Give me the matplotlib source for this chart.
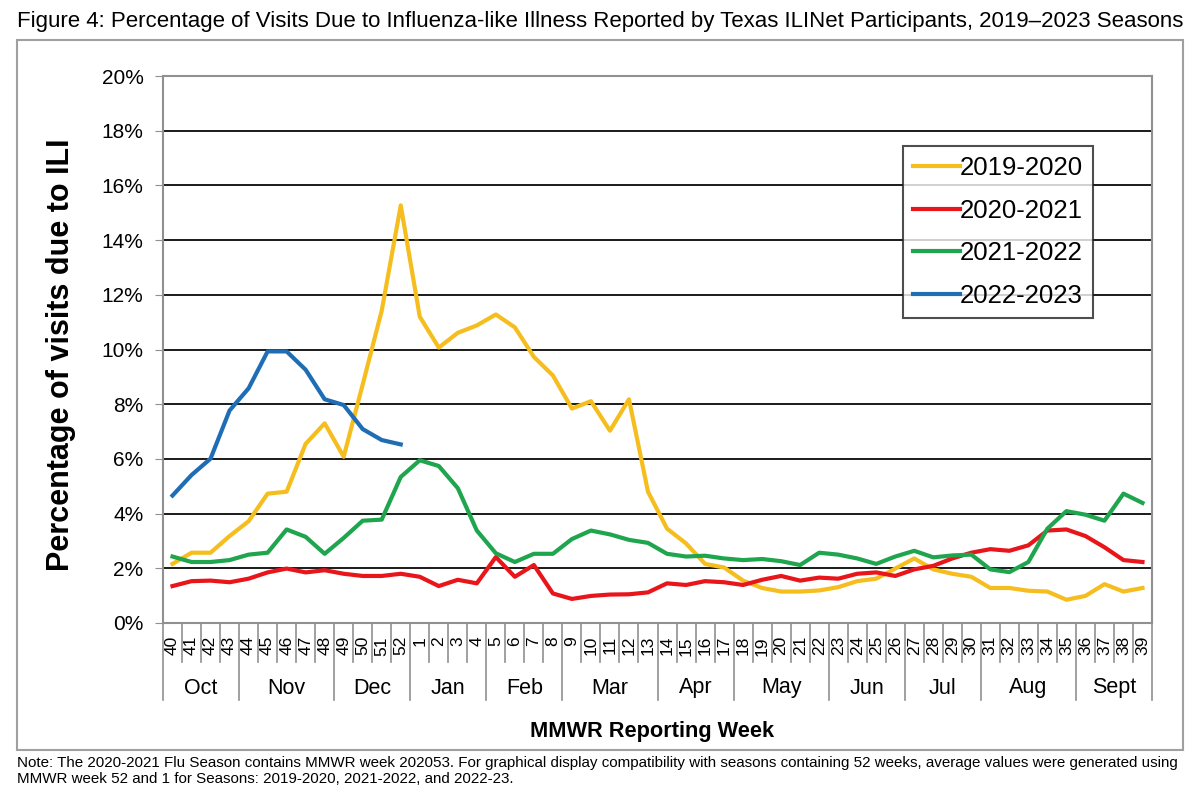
import numpy as np
import matplotlib.pyplot as plt
from matplotlib.patches import Rectangle
from matplotlib.transforms import blended_transform_factory

plt.rcParams['font.family'] = ['Liberation Sans', 'DejaVu Sans']

week_labels = [str(w) for w in range(40, 53)] + [str(w) for w in range(1, 40)]
months = ['Oct', 'Nov', 'Dec', 'Jan', 'Feb', 'Mar', 'Apr', 'May', 'Jun', 'Jul', 'Aug', 'Sept']
weeks_per_month = [4, 5, 4, 4, 4, 5, 4, 5, 4, 4, 5, 4]

s2019 = [2.16, 2.57, 2.57, 3.18, 3.72, 4.73, 4.80, 6.55, 7.30, 6.08, 8.72, 11.42, 15.27,
         11.20, 10.07, 10.61, 10.88,
         11.28, 10.81, 9.73, 9.05, 7.84, 8.11, 7.03, 8.18, 4.80, 3.45, 2.91, 2.16, 2.03, 1.55,
         1.28, 1.15, 1.15, 1.19,
         1.31, 1.53, 1.62, 1.99, 2.36, 1.96, 1.80, 1.69, 1.28, 1.28, 1.18, 1.15, 0.85, 0.99,
         1.42, 1.15, 1.28]
s2020 = [1.35, 1.53, 1.55, 1.49, 1.62, 1.85, 1.99, 1.85, 1.93, 1.80, 1.72, 1.72, 1.80,
         1.69, 1.35, 1.58, 1.45,
         2.41, 1.69, 2.12, 1.08, 0.88, 0.99, 1.04, 1.05, 1.12, 1.45, 1.39, 1.53, 1.49, 1.39,
         1.58, 1.72, 1.55, 1.66,
         1.62, 1.80, 1.85, 1.72, 1.96, 2.09, 2.36, 2.57, 2.70, 2.64, 2.84, 3.38, 3.42, 3.18,
         2.77, 2.30, 2.23]
s2021 = [2.43, 2.23, 2.23, 2.30, 2.50, 2.57, 3.42, 3.15, 2.53, 3.11, 3.74, 3.78, 5.34,
         5.95, 5.74, 4.93, 3.38,
         2.55, 2.23, 2.53, 2.53, 3.07, 3.38, 3.24, 3.04, 2.93, 2.53, 2.43, 2.46, 2.36, 2.30,
         2.34, 2.26, 2.12, 2.57,
         2.50, 2.36, 2.16, 2.43, 2.64, 2.40, 2.47, 2.50, 1.96, 1.86, 2.23, 3.45, 4.09, 3.96,
         3.74, 4.73, 4.39]
s2022 = [4.66, 5.41, 6.01, 7.77, 8.58, 9.93, 9.93, 9.26, 8.18, 7.97, 7.09, 6.69, 6.53]

series = [('2019-2020', s2019, '#F5BE1E'),
          ('2020-2021', s2020, '#E8151B'),
          ('2021-2022', s2021, '#1FA54E'),
          ('2022-2023', s2022, '#1E6DB5')]

W, H = 1200, 799
fig = plt.figure(figsize=(12, 7.99), dpi=100)

# outer chart frame
fig.patches.append(Rectangle((17 / W, 1 - 750 / H), 1166 / W, 710 / H, transform=fig.transFigure,
                             fill=False, edgecolor='#a0a0a0', linewidth=1.5))

ax = fig.add_axes([163 / W, 1 - 623 / H, 989 / W, 547 / H])

for name, vals, col in series:
    ax.plot(np.arange(len(vals)), vals, color=col, linewidth=3, label=name, solid_joinstyle='round')

ax.set_xlim(-0.5, len(week_labels) - 0.5)
ax.set_ylim(0, 20)
ax.set_yticks(np.arange(0, 21, 2))
ax.set_yticklabels([f'{v}%' for v in range(0, 21, 2)], fontsize=15)
ax.tick_params(axis='y', direction='out', length=6, color='#909090', pad=8)
ax.set_xticks([])
for y in range(2, 20, 2):
    ax.axhline(y, color='#1a1a1a', linewidth=1.4, zorder=0)
for sp in ax.spines.values():
    sp.set_color('#909090')
    sp.set_linewidth(1.5)

# week / month category axis
tr = blended_transform_factory(ax.transData, ax.transAxes)
week_h = (662 - 623) / 547
month_h = (700 - 623) / 547
month_starts = np.cumsum([0] + weeks_per_month)
for i in range(len(week_labels) + 1):
    h = month_h if i in month_starts else week_h
    ax.plot([i - 0.5, i - 0.5], [0, -h], transform=tr, color='#909090', linewidth=1.2, clip_on=False)
for i, lab in enumerate(week_labels):
    ax.text(i, -(636 - 623) / 547, lab, transform=tr, rotation=90, ha='center', va='top', fontsize=12.5)
for m, a, b in zip(months, month_starts[:-1], month_starts[1:]):
    ax.text((a + b - 1) / 2, -(688 - 623) / 547, m, transform=tr, ha='center', va='center', fontsize=15.5)

fig.text(652 / W, 1 - 732 / H, 'MMWR Reporting Week', ha='center', va='center',
         fontsize=15.7, fontweight='bold')
fig.text(61 / W, 1 - 355 / H, 'Percentage of visits due to ILI', rotation=90, ha='center', va='center',
         fontsize=22, fontweight='bold')

leg = ax.legend(loc='upper left', bbox_to_anchor=(903 / W, 1 - 146 / H), bbox_transform=fig.transFigure,
                fontsize=18.5, frameon=True, fancybox=False, borderaxespad=0, handlelength=1.8,
                handletextpad=0.0, labelspacing=0.72, borderpad=0.4)
leg.get_frame().set_edgecolor('#222222')
leg.get_frame().set_linewidth(1.5)

fig.text(17 / W, 1 - 22 / H, 'Figure 4: Percentage of Visits Due to Influenza-like Illness Reported by Texas '
         'ILINet Participants, 2019\u20132023 Seasons', ha='left', va='center', fontsize=16)
fig.text(17 / W, 1 - 771 / H, 'Note: The 2020-2021 Flu Season contains MMWR week 202053. For graphical display '
         'compatibility with seasons containing 52 weeks, average values were generated using\n'
         'MMWR week 52 and 1 for Seasons: 2019-2020, 2021-2022, and 2022-23.',
         ha='left', va='center', fontsize=10.9, linespacing=1.2)

fig.savefig('out.png', dpi=100)
